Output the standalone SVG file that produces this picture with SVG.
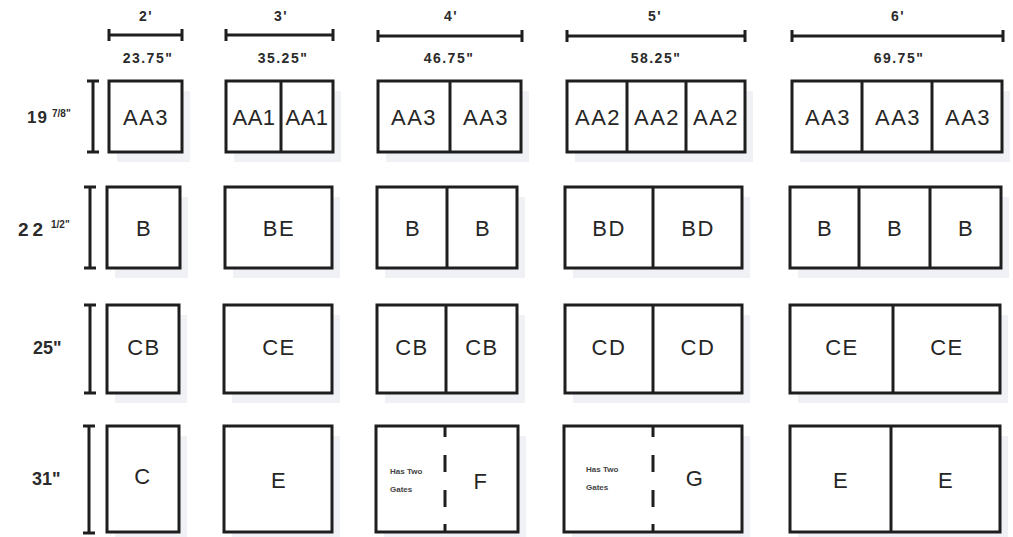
<svg xmlns="http://www.w3.org/2000/svg" width="1013" height="537" viewBox="0 0 1013 537">
<style>
.bg{fill:#ffffff}
.box{fill:#ffffff;stroke:#1e1e1e;stroke-width:3}
.sh{fill:#eff1f5}
.div{stroke:#1e1e1e;stroke-width:3;fill:none}
.dash{stroke:#1e1e1e;stroke-width:3;fill:none;stroke-dasharray:11 18 17 18 17 17 8}
.dim{stroke:#1e1e1e;stroke-width:3;fill:none}
.lbl{font-family:"Liberation Sans",Arial,sans-serif;font-size:22px;fill:#262626;text-anchor:middle;letter-spacing:1.5px}
.hd{font-family:"Liberation Sans",Arial,sans-serif;font-size:14px;font-weight:bold;fill:#2b2b2b;text-anchor:middle;letter-spacing:1.5px}
.rl{font-family:"Liberation Sans",Arial,sans-serif;font-size:18px;font-weight:bold;fill:#2b2b2b}
.sup{font-family:"Liberation Sans",Arial,sans-serif;font-size:10px;font-weight:bold;fill:#2b2b2b}
.note{font-family:"Liberation Sans",Arial,sans-serif;font-size:8px;font-weight:bold;fill:#444444}
</style>
<rect class="bg" x="0" y="0" width="1013" height="537"/>

<g id="headers">
  <text class="hd" x="146" y="21">2'</text>
  <text class="hd" x="281" y="21">3'</text>
  <text class="hd" x="451" y="21">4'</text>
  <text class="hd" x="655" y="21">5'</text>
  <text class="hd" x="898" y="21">6'</text>
  <text class="hd" x="148" y="63">23.75"</text>
  <text class="hd" x="283" y="63">35.25"</text>
  <text class="hd" x="449" y="63">46.75"</text>
  <text class="hd" x="656" y="63">58.25"</text>
  <text class="hd" x="899" y="63">69.75"</text>
</g>

<g id="connectors">
  <path class="dim" d="M109 35H182M109 29V41M182 29V41"/>
  <path class="dim" d="M226 35H333M226 29V41M333 29V41"/>
  <path class="dim" d="M378 36H522M378 30V42M522 30V42"/>
  <path class="dim" d="M567 36H745M567 30V42M745 30V42"/>
  <path class="dim" d="M792 36H1003M792 30V42M1003 30V42"/>
  <path class="dim" d="M93 81V152M87 81H99M87 152H99"/>
  <path class="dim" d="M90 187V268M84 187H96M84 268H96"/>
  <path class="dim" d="M90 305V393M84 305H96M84 393H96"/>
  <path class="dim" d="M89 426V533M83 426H95M83 533H95"/>
</g>

<g id="row-labels">
  <text class="rl" x="27" y="123" style="font-size:17px;letter-spacing:1px">19</text>
  <text class="sup" x="52" y="117">7/8"</text>
  <text class="rl" x="18" y="236" style="font-size:19px;letter-spacing:4px">22</text>
  <text class="sup" x="51" y="228">1/2"</text>
  <text class="rl" x="33" y="354">25"</text>
  <text class="rl" x="32" y="485">31"</text>
</g>

<!-- Row 1 -->
<g id="r1c2">
  <rect class="sh" x="117" y="91" width="73" height="71"/>
  <rect class="box" x="109" y="81" width="73" height="71"/>
  <text class="lbl" x="146" y="125">AA3</text>
</g>
<g id="r1c3">
  <rect class="sh" x="234" y="91" width="107" height="71"/>
  <rect class="box" x="226" y="81" width="107" height="71"/>
  <path class="div" d="M281 81V152"/>
  <text class="lbl" x="254" y="125" style="letter-spacing:0.5px">AA1</text>
  <text class="lbl" x="307" y="125" style="letter-spacing:0.5px">AA1</text>
</g>
<g id="r1c4">
  <rect class="sh" x="386" y="91" width="143" height="71"/>
  <rect class="box" x="378" y="81" width="143" height="71"/>
  <path class="div" d="M450 81V152"/>
  <text class="lbl" x="414" y="125">AA3</text>
  <text class="lbl" x="486" y="125">AA3</text>
</g>
<g id="r1c5">
  <rect class="sh" x="575" y="91" width="178" height="71"/>
  <rect class="box" x="567" y="81" width="178" height="71"/>
  <path class="div" d="M627 81V152M686 81V152"/>
  <text class="lbl" x="598" y="125">AA2</text>
  <text class="lbl" x="657" y="125">AA2</text>
  <text class="lbl" x="716" y="125">AA2</text>
</g>
<g id="r1c6">
  <rect class="sh" x="800" y="91" width="210" height="71"/>
  <rect class="box" x="792" y="81" width="210" height="71"/>
  <path class="div" d="M862 81V152M932 81V152"/>
  <text class="lbl" x="828" y="125">AA3</text>
  <text class="lbl" x="898" y="125">AA3</text>
  <text class="lbl" x="968" y="125">AA3</text>
</g>

<!-- Row 2 -->
<g id="r2c2">
  <rect class="sh" x="115" y="197" width="73" height="81"/>
  <rect class="box" x="107" y="187" width="73" height="81"/>
  <text class="lbl" x="144" y="236">B</text>
</g>
<g id="r2c3">
  <rect class="sh" x="233" y="197" width="107" height="81"/>
  <rect class="box" x="225" y="187" width="107" height="81"/>
  <text class="lbl" x="279" y="236">BE</text>
</g>
<g id="r2c4">
  <rect class="sh" x="385" y="197" width="140" height="81"/>
  <rect class="box" x="377" y="187" width="140" height="81"/>
  <path class="div" d="M447 187V268"/>
  <text class="lbl" x="413" y="236">B</text>
  <text class="lbl" x="483" y="236">B</text>
</g>
<g id="r2c5">
  <rect class="sh" x="573" y="197" width="177" height="81"/>
  <rect class="box" x="565" y="187" width="177" height="81"/>
  <path class="div" d="M653 187V268"/>
  <text class="lbl" x="609" y="236">BD</text>
  <text class="lbl" x="698" y="236">BD</text>
</g>
<g id="r2c6">
  <rect class="sh" x="798" y="197" width="211" height="81"/>
  <rect class="box" x="790" y="187" width="211" height="81"/>
  <path class="div" d="M859 187V268M930 187V268"/>
  <text class="lbl" x="825" y="236">B</text>
  <text class="lbl" x="895" y="236">B</text>
  <text class="lbl" x="966" y="236">B</text>
</g>

<!-- Row 3 -->
<g id="r3c2">
  <rect class="sh" x="115" y="315" width="72" height="88"/>
  <rect class="box" x="107" y="305" width="72" height="88"/>
  <text class="lbl" x="144" y="355">CB</text>
</g>
<g id="r3c3">
  <rect class="sh" x="232" y="315" width="108" height="88"/>
  <rect class="box" x="224" y="305" width="108" height="88"/>
  <text class="lbl" x="279" y="355">CE</text>
</g>
<g id="r3c4">
  <rect class="sh" x="385" y="315" width="140" height="88"/>
  <rect class="box" x="377" y="305" width="140" height="88"/>
  <path class="div" d="M446 305V393"/>
  <text class="lbl" x="412" y="355">CB</text>
  <text class="lbl" x="482" y="355">CB</text>
</g>
<g id="r3c5">
  <rect class="sh" x="573" y="315" width="177" height="88"/>
  <rect class="box" x="565" y="305" width="177" height="88"/>
  <path class="div" d="M653 305V393"/>
  <text class="lbl" x="609" y="355">CD</text>
  <text class="lbl" x="698" y="355">CD</text>
</g>
<g id="r3c6">
  <rect class="sh" x="798" y="315" width="210" height="88"/>
  <rect class="box" x="790" y="305" width="210" height="88"/>
  <path class="div" d="M893 305V393"/>
  <text class="lbl" x="842" y="355">CE</text>
  <text class="lbl" x="947" y="355">CE</text>
</g>

<!-- Row 4 -->
<g id="r4c2">
  <rect class="sh" x="115" y="436" width="72" height="106"/>
  <rect class="box" x="107" y="426" width="72" height="106"/>
  <text class="lbl" x="143" y="484">C</text>
</g>
<g id="r4c3">
  <rect class="sh" x="232" y="436" width="108" height="106"/>
  <rect class="box" x="224" y="426" width="108" height="106"/>
  <text class="lbl" x="279" y="488">E</text>
</g>
<g id="r4c4">
  <rect class="sh" x="384" y="436" width="142" height="106"/>
  <rect class="box" x="376" y="426" width="142" height="106"/>
  <path class="dash" d="M445 426V532"/>
  <text class="note" x="390" y="474">Has Two</text>
  <text class="note" x="390" y="492">Gates</text>
  <text class="lbl" x="481" y="489">F</text>
</g>
<g id="r4c5">
  <rect class="sh" x="572" y="436" width="178" height="106"/>
  <rect class="box" x="564" y="426" width="178" height="106"/>
  <path class="dash" d="M653 426V532"/>
  <text class="note" x="586" y="472">Has Two</text>
  <text class="note" x="586" y="490">Gates</text>
  <text class="lbl" x="695" y="486">G</text>
</g>
<g id="r4c6">
  <rect class="sh" x="798" y="436" width="210" height="106"/>
  <rect class="box" x="790" y="426" width="210" height="106"/>
  <path class="div" d="M891 426V532"/>
  <text class="lbl" x="841" y="488">E</text>
  <text class="lbl" x="946" y="488">E</text>
</g>
</svg>
